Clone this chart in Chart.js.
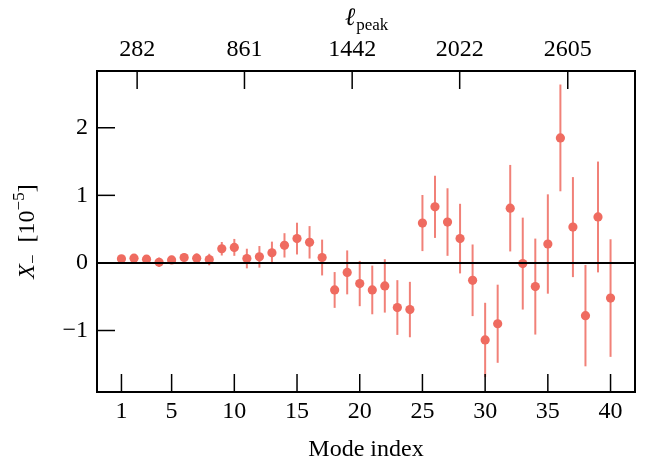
<!DOCTYPE html>
<html>
<head>
<meta charset="utf-8">
<script src="https://cdn.jsdelivr.net/npm/chart.js@4/dist/chart.umd.min.js"></script>
<style>
  html, body { margin: 0; padding: 0; background: #fff; }
  #wrap { width: 657px; height: 464px; }
</style>
</head>
<body>
<div id="wrap"><canvas id="grafico" width="657" height="464"></canvas></div>
<script>
// data
const modeIndex = [1,2,3,4,5,6,7,8,9,10,11,12,13,14,15,16,17,18,19,20,
                   21,22,23,24,25,26,27,28,29,30,31,32,33,34,35,36,37,38,39,40];
const xMinus = [0.06,0.07,0.055,0.01,0.045,0.08,0.07,0.05,0.21,0.23,
                0.065,0.09,0.15,0.26,0.36,0.305,0.08,-0.40,-0.14,-0.305,
                -0.40,-0.34,-0.66,-0.69,0.59,0.83,0.605,0.36,-0.257,-1.14,
                -0.90,0.81,-0.01,-0.35,0.28,1.85,0.53,-0.78,0.68,-0.52];
const xMinusErr = [0.03,0.03,0.03,0.07,0.06,0.06,0.07,0.085,0.10,0.125,
                   0.145,0.16,0.165,0.18,0.235,0.24,0.265,0.265,0.325,0.335,
                   0.36,0.395,0.405,0.41,0.415,0.46,0.50,0.515,0.53,0.55,
                   0.578,0.64,0.68,0.71,0.735,0.79,0.74,0.75,0.82,0.87];
const modeTicks = [1,5,10,15,20,25,30,35,40];
const yTicks = [-1,0,1,2];
const ellTicks = [282,861,1442,2022,2605];
// l_peak as a linear function of mode index (top axis)
const ellAt0 = 129.8, ellPerMode = 67.65;

const xMin = -0.95, xMax = 41.95;
const dotColor = '#EF6B60';
const errColor = 'rgba(239,107,96,0.85)';
const serif = "'Liberation Serif', 'DejaVu Serif', serif";

function minus(v){ return v < 0 ? '\u2212' + Math.abs(v) : String(v); }

const extras = {
  id: 'extras',
  beforeDatasetsDraw(chart){
    const {ctx, scales:{x, y}} = chart;
    ctx.save();
    ctx.strokeStyle = errColor; ctx.lineWidth = 2;
    modeIndex.forEach((m,i)=>{
      const px = x.getPixelForValue(m);
      ctx.beginPath();
      ctx.moveTo(px, y.getPixelForValue(xMinus[i]-xMinusErr[i]));
      ctx.lineTo(px, y.getPixelForValue(xMinus[i]+xMinusErr[i]));
      ctx.stroke();
    });
    ctx.restore();
  },
  afterDatasetsDraw(chart){
    const {ctx, chartArea:a, scales:{x, y, x2}} = chart;
    ctx.save();
    ctx.strokeStyle = '#000';
    // zero line
    ctx.lineWidth = 2;
    const y0 = y.getPixelForValue(0);
    ctx.beginPath(); ctx.moveTo(a.left, y0); ctx.lineTo(a.right, y0); ctx.stroke();
    // ticks pointing inward
    ctx.lineWidth = 1.5;
    const tl = 18;
    x.ticks.forEach(t=>{
      const p = x.getPixelForValue(t.value);
      ctx.beginPath(); ctx.moveTo(p, a.bottom); ctx.lineTo(p, a.bottom-tl); ctx.stroke();
    });
    x2.ticks.forEach(t=>{
      const p = x2.getPixelForValue(t.value);
      ctx.beginPath(); ctx.moveTo(p, a.top); ctx.lineTo(p, a.top+tl); ctx.stroke();
    });
    y.ticks.forEach(t=>{
      const p = y.getPixelForValue(t.value);
      ctx.beginPath(); ctx.moveTo(a.left, p); ctx.lineTo(a.left+tl, p); ctx.stroke();
    });
    // frame
    ctx.lineWidth = 2;
    ctx.strokeRect(a.left, a.top, a.right-a.left, a.bottom-a.top);
    ctx.restore();
  },
  afterDraw(chart){
    const {ctx, chartArea:a} = chart;
    ctx.save();
    ctx.fillStyle = '#000';
    ctx.textBaseline = 'alphabetic';
    // top title: l_peak
    const cx = (a.left + a.right)/2;
    ctx.font = 'italic 25px ' + serif;
    const wl = ctx.measureText('\u2113').width;
    ctx.font = '17px ' + serif;
    const wp = ctx.measureText('peak').width;
    let sx = cx - (wl+wp)/2;
    ctx.font = 'italic 25px ' + serif;
    ctx.fillText('\u2113', sx, 25);
    ctx.font = '17px ' + serif;
    ctx.fillText('peak', sx+wl+1, 30);
    // y title: X_- [10^-5]
    ctx.translate(34, (a.top+a.bottom)/2);
    ctx.rotate(-Math.PI/2);
    const parts = [
      {t:'X', f:'italic 24px ', dy:0},
      {t:'\u2212', f:'17px ', dy:4},
      {t:'  [10', f:'24px ', dy:0},
      {t:'\u22125', f:'17px ', dy:-10},
      {t:']', f:'24px ', dy:0}
    ];
    let w = 0;
    parts.forEach(p=>{ ctx.font = p.f + serif; p.w = ctx.measureText(p.t).width; w += p.w; });
    let px = -w/2;
    parts.forEach(p=>{ ctx.font = p.f + serif; ctx.fillText(p.t, px, p.dy); px += p.w; });
    ctx.restore();
  }
};

const ctx = document.getElementById('grafico').getContext('2d');
new Chart(ctx, {
  type: 'scatter',
  data: {
    datasets: [{
      data: modeIndex.map((m,i)=>({x:m, y:xMinus[i]})),
      backgroundColor: dotColor,
      borderColor: dotColor,
      pointRadius: 4.6,
      pointBorderWidth: 0,
      pointHoverRadius: 4.6
    }]
  },
  options: {
    responsive: false,
    animation: false,
    layout: { padding: { left: 0, right: 22, top: 0, bottom: 0 } },
    plugins: { legend: { display: false }, tooltip: { enabled: false } },
    scales: {
      x: {
        type: 'linear', position: 'bottom', min: xMin, max: xMax,
        afterBuildTicks: s => { s.ticks = modeTicks.map(v=>({value:v})); },
        afterFit: s => { s.height = 72; },
        grid: { display: false, drawTicks: false },
        border: { display: false },
        ticks: { color: '#000', padding: 5, maxRotation: 0, autoSkip: false,
                 font: { family: serif, size: 24 } },
        title: { display: true, text: 'Mode index', color: '#000',
                 font: { family: serif, size: 24 }, padding: { top: 0, bottom: 0 } }
      },
      x2: {
        type: 'linear', position: 'top',
        min: ellAt0 + ellPerMode*xMin, max: ellAt0 + ellPerMode*xMax,
        afterBuildTicks: s => { s.ticks = ellTicks.map(v=>({value:v})); },
        afterFit: s => { s.height = 71; },
        grid: { display: false, drawTicks: false },
        border: { display: false },
        ticks: { color: '#000', padding: 7, maxRotation: 0, autoSkip: false,
                 callback: v => String(v),
                 font: { family: serif, size: 24 } }
      },
      y: {
        type: 'linear', min: -1.91, max: 2.84,
        afterBuildTicks: s => { s.ticks = yTicks.map(v=>({value:v})); },
        afterFit: s => { s.width = 97; },
        grid: { display: false, drawTicks: false },
        border: { display: false },
        ticks: { color: '#000', padding: 9, callback: v => minus(v),
                 font: { family: serif, size: 24 } }
      }
    }
  },
  plugins: [extras]
});
</script>
</body>
</html>
